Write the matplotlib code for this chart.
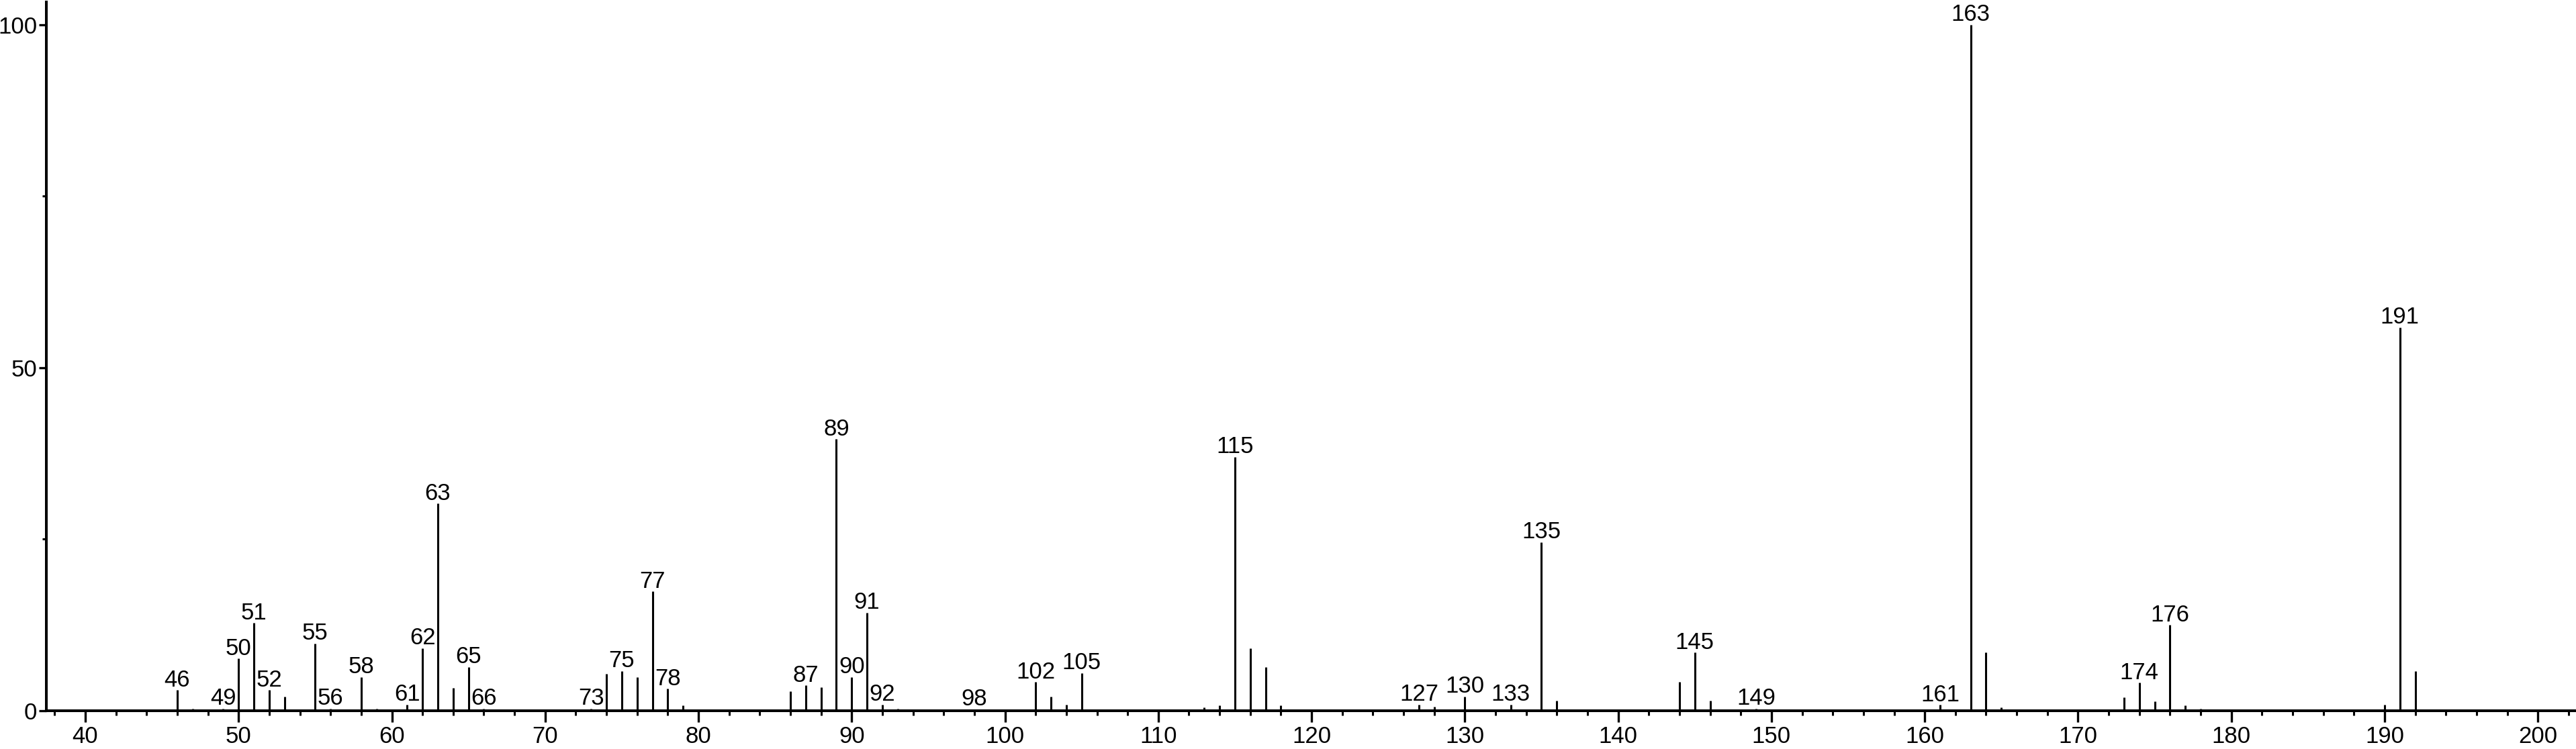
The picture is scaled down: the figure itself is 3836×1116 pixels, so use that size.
import matplotlib

matplotlib.use("Agg")
import matplotlib.pyplot as plt
from matplotlib import font_manager
from matplotlib.ticker import MultipleLocator

# pick a narrow sans if one is installed, else plain Liberation Sans
names = {f.name for f in font_manager.fontManager.ttflist}
family = "Liberation Sans Narrow" if "Liberation Sans Narrow" in names else "Liberation Sans"
plt.rcParams["font.family"] = [family, "DejaVu Sans"]

# --------------------------------------------------------------------------- #
#  DATA  (m/z and relative intensity)                   #
# --------------------------------------------------------------------------- #
mz = [46, 47, 49, 50, 51, 52, 53, 55, 56, 58, 59, 61, 62, 63, 64, 65, 66, 67,
      69, 71, 73, 74, 75, 76, 77, 78, 79, 85, 86, 87, 88, 89, 90, 91, 92, 93,
      98, 99, 101, 102, 103, 104, 105, 107, 111, 113, 114, 115, 116, 117, 118,
      119, 127, 128, 129, 130, 131, 133, 135, 136, 137, 143, 144, 145, 146,
      147, 149, 159, 161, 163, 164, 165, 173, 174, 175, 176, 177, 178, 186,
      188, 189, 190, 191, 192, 193]
intensity = [3.0, 0.3, 0.3, 7.6, 12.8, 3.0, 2.1, 9.8, 0.3, 4.9, 0.3, 0.9, 9.1,
             30.2, 3.3, 6.4, 0.3, 0.2, 0.2, 0.2, 0.3, 5.4, 5.8, 4.9, 17.4, 3.2,
             0.8, 0.2, 2.8, 3.7, 3.4, 39.6, 4.9, 14.3, 0.9, 0.3, 0.2, 0.2, 0.2,
             4.2, 2.1, 0.9, 5.5, 0.2, 0.2, 0.5, 0.8, 37.0, 9.1, 6.4, 0.8, 0.2,
             0.9, 0.6, 0.2, 2.1, 0.2, 0.9, 24.6, 1.5, 0.2, 0.2, 4.2, 8.5, 1.5,
             0.2, 0.3, 0.2, 0.85, 100.0, 8.5, 0.5, 2.0, 4.1, 1.4, 12.5, 0.8,
             0.25, 0.2, 0.2, 0.2, 0.85, 55.9, 5.8, 0.2]

labelled = [46, 49, 50, 51, 52, 55, 56, 58, 61, 62, 63, 65, 66, 73, 75, 77, 78,
            87, 89, 90, 91, 92, 98, 102, 105, 115, 127, 130, 133, 135, 145, 149,
            161, 163, 174, 176, 191]

x_ticks = list(range(40, 201, 10))
y_ticks = [0, 50, 100]

FS = 25

fig = plt.figure(figsize=(38.36, 11.16), dpi=100)
ax = fig.add_axes([69 / 3836, 1 - 1059 / 1116, (3834 - 69) / 3836, (1059 - 3) / 1116])

ax.vlines(mz, 0, intensity, colors="black", linewidth=2.2, zorder=3)

height = dict(zip(mz, intensity))
for m in labelled:
    ax.annotate(str(m), (m, height[m]), xytext=(0, 4), textcoords="offset points",
                ha="center", va="baseline", fontsize=FS, color="black")

ax.set_xlim(37.46, 202.4)
ax.set_ylim(0, 103.3)
ax.set_xticks(x_ticks)
ax.xaxis.set_minor_locator(MultipleLocator(2))
ax.set_yticks(y_ticks)
ax.yaxis.set_minor_locator(MultipleLocator(25))

for side in ("top", "right"):
    ax.spines[side].set_visible(False)
for side in ("left", "bottom"):
    ax.spines[side].set_linewidth(2.9)

ax.tick_params(axis="x", which="major", length=12, width=2.4, pad=4, labelsize=FS)
ax.tick_params(axis="x", which="minor", length=5, width=2.2)
ax.tick_params(axis="y", which="major", length=8, width=2.4, pad=2, labelsize=FS)
ax.tick_params(axis="y", which="minor", length=4.5, width=2.2)

fig.savefig("out.png", dpi=100, facecolor="white")
